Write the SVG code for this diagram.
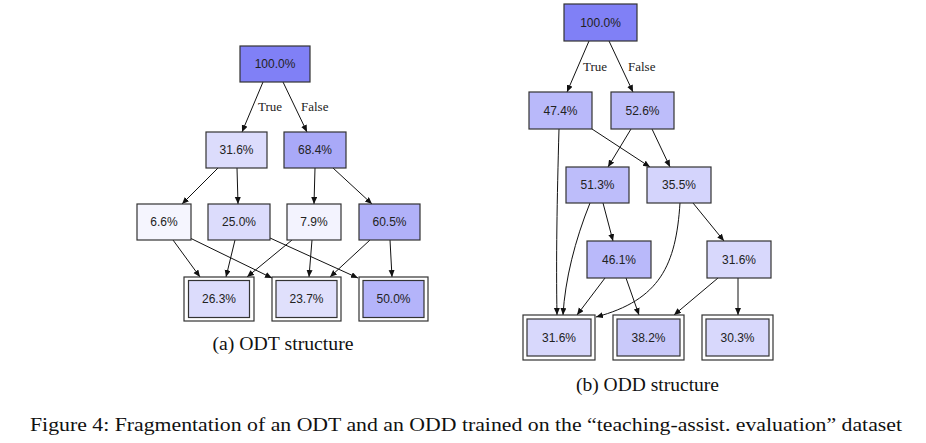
<svg xmlns="http://www.w3.org/2000/svg" width="926" height="443" viewBox="0 0 926 443">
<style>
.n rect{stroke:#333;stroke-width:1.2}
.n text{font-family:"Liberation Sans",Arial,sans-serif;font-size:12px;fill:#222;text-anchor:middle}
.lbl{font-family:"Liberation Serif","Times New Roman",serif;font-size:13px;fill:#222}
.cap{font-family:"Liberation Serif","Times New Roman",serif;fill:#111;text-anchor:middle}
#edges path{fill:none;stroke:#111;stroke-width:1;marker-end:url(#ah)}
.o{fill:#fff}
</style>
<defs>
<marker id="ah" markerUnits="userSpaceOnUse" markerWidth="8" markerHeight="8" refX="7" refY="3" orient="auto">
<path d="M0,0 L7,3 L0,6 Z" fill="#111"/>
</marker>
</defs>
<rect width="926" height="443" fill="#fff"/>

<g id="edges">
<!-- (a) -->
<path d="M263,82 L242,132"/>
<path d="M283,82 L307,132"/>
<path d="M218,168 L182,204"/>
<path d="M237,168 L238,204"/>
<path d="M315,168 L314,204"/>
<path d="M333,168 L372,204"/>
<path d="M173,240 L200,277"/>
<path d="M190,238 L272,278"/>
<path d="M235,240 L226,277"/>
<path d="M270,238 L358,278"/>
<path d="M292,240 L247,277"/>
<path d="M312,240 L309,277"/>
<path d="M370,240 L330,277"/>
<path d="M390,240 L392,277"/>
<!-- (b) -->
<path d="M589,41 L567,92"/>
<path d="M609,41 L633,92"/>
<path d="M559,129 C557,200 556,260 557,315"/>
<path d="M592,129 L650,167"/>
<path d="M631,129 L608,167"/>
<path d="M652,129 L670,167"/>
<path d="M590,203 C575,240 565,280 563,315"/>
<path d="M603,203 L613,241"/>
<path d="M680,203 C676,265 660,300 596,317"/>
<path d="M693,203 L724,241"/>
<path d="M605,278 L577,315"/>
<path d="M626,278 L639,315"/>
<path d="M718,278 L674,315"/>
<path d="M738,278 L738,315"/>
</g>
<text class="lbl" x="258" y="111">True</text>
<text class="lbl" x="301" y="111">False</text>
<text class="lbl" x="583" y="71">True</text>
<text class="lbl" x="628" y="71">False</text>

<!-- (a) nodes -->
<g id="a_root" class="n"><rect x="240" y="46" width="70" height="36" fill="#8080f6"/><text x="275" y="68">100.0%</text></g>
<g id="a_n1" class="n"><rect x="206" y="132" width="61" height="36" fill="#dcdcfc"/><text x="236.5" y="154">31.6%</text></g>
<g id="a_n2" class="n"><rect x="284" y="132" width="62" height="36" fill="#a9a9f8"/><text x="315" y="154">68.4%</text></g>
<g id="a_n3" class="n"><rect x="137" y="204" width="54" height="36" fill="#f5f5fe"/><text x="164" y="226">6.6%</text></g>
<g id="a_n4" class="n"><rect x="208" y="204" width="62" height="36" fill="#dcdcfc"/><text x="239" y="226">25.0%</text></g>
<g id="a_n5" class="n"><rect x="287" y="204" width="54" height="36" fill="#f3f3fe"/><text x="314" y="226">7.9%</text></g>
<g id="a_n6" class="n"><rect x="359" y="204" width="61" height="36" fill="#b1b1f9"/><text x="389.5" y="226">60.5%</text></g>
<g id="a_l1" class="n"><rect class="o" x="184" y="277" width="70" height="44"/><rect x="188.5" y="280.5" width="61" height="37" fill="#dcdcfc"/><text x="219" y="303">26.3%</text></g>
<g id="a_l2" class="n"><rect class="o" x="272" y="277" width="69" height="44"/><rect x="276" y="280.5" width="61" height="37" fill="#e0e0fc"/><text x="306.5" y="303">23.7%</text></g>
<g id="a_l3" class="n"><rect class="o" x="359" y="277" width="69" height="44"/><rect x="363" y="280.5" width="61" height="37" fill="#b4b4fa"/><text x="393.5" y="303">50.0%</text></g>

<!-- (b) nodes -->
<g id="b_root" class="n"><rect x="564" y="4" width="73" height="37" fill="#8080f6"/><text x="600.5" y="26.5">100.0%</text></g>
<g id="b_n1" class="n"><rect x="529" y="92" width="63" height="37" fill="#b9b9fa"/><text x="560.5" y="114.5">47.4%</text></g>
<g id="b_n2" class="n"><rect x="611" y="92" width="63" height="37" fill="#bdbdfa"/><text x="642.5" y="114.5">52.6%</text></g>
<g id="b_n3" class="n"><rect x="566" y="167" width="63" height="36" fill="#bdbdfa"/><text x="597.5" y="189">51.3%</text></g>
<g id="b_n4" class="n"><rect x="647" y="167" width="64" height="36" fill="#d4d4fc"/><text x="679" y="189">35.5%</text></g>
<g id="b_n5" class="n"><rect x="587" y="241" width="64" height="37" fill="#b9b9fa"/><text x="619" y="263.5">46.1%</text></g>
<g id="b_n6" class="n"><rect x="707" y="241" width="64" height="37" fill="#d8d8fc"/><text x="739" y="263.5">31.6%</text></g>
<g id="b_l1" class="n"><rect class="o" x="523" y="315" width="72" height="45"/><rect x="527" y="319" width="64" height="37" fill="#d8d8fc"/><text x="559" y="341.5">31.6%</text></g>
<g id="b_l2" class="n"><rect class="o" x="613" y="315" width="71" height="45"/><rect x="617" y="319" width="63" height="37" fill="#c9c9fa"/><text x="648.5" y="341.5">38.2%</text></g>
<g id="b_l3" class="n"><rect class="o" x="702" y="315" width="71" height="45"/><rect x="706" y="319" width="63" height="37" fill="#d8d8fc"/><text x="737.5" y="341.5">30.3%</text></g>

<text class="cap" x="283" y="350" font-size="19" textLength="141" lengthAdjust="spacingAndGlyphs">(a) ODT structure</text>
<text class="cap" x="647.5" y="391" font-size="19" textLength="143" lengthAdjust="spacingAndGlyphs">(b) ODD structure</text>
<text class="cap" x="466" y="431" font-size="19" textLength="872" lengthAdjust="spacingAndGlyphs">Figure 4: Fragmentation of an ODT and an ODD trained on the “teaching-assist. evaluation” dataset</text>
</svg>
